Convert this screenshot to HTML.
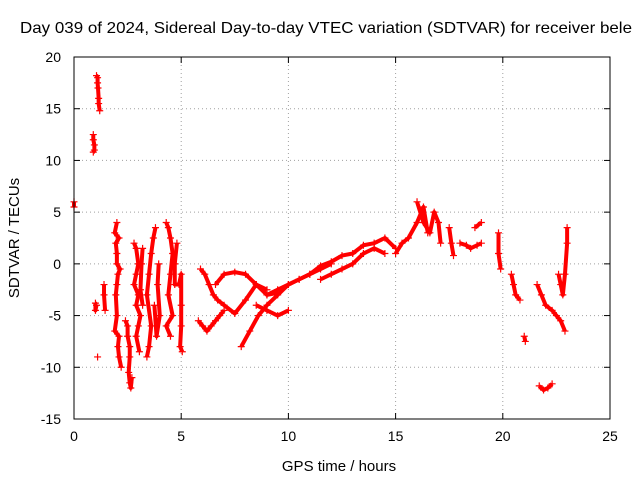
<!DOCTYPE html>
<html><head><meta charset="utf-8"><style>
html,body{margin:0;padding:0;background:#fff;overflow:hidden}
svg{display:block;font-family:"Liberation Sans",sans-serif}
</style></head><body>
<svg id="c" width="640" height="480">
<text x="20" y="33" font-size="16" textLength="612" lengthAdjust="spacingAndGlyphs" fill="#000">Day 039 of 2024, Sidereal Day-to-day VTEC variation (SDTVAR) for receiver bele</text>
<text x="339" y="471" font-size="15" text-anchor="middle">GPS time / hours</text>
<text transform="translate(19,238) rotate(-90)" font-size="15" text-anchor="middle">SDTVAR / TECUs</text>
<g id="grid"></g><g id="ticks"></g><g id="marks"></g>
<rect x="74" y="57" width="536" height="362" fill="none" stroke="#000" stroke-width="1"/>
</svg>
<script>
const xTicks=[0,5,10,15,20,25];
const yTicks=[20,15,10,5,0,-5,-10,-15];
const tracesA=[
[[0,6],[0,5.5]],
[[0.9,12.5],[0.9,12],[0.95,11.5],[0.95,11],[0.9,10.8]],
[[1.05,18.2],[1.1,18],[1.1,17.5],[1.12,17],[1.15,16],[1.15,15.5],[1.2,14.8]],
[[1.0,-3.8],[1.0,-4.5],[1.05,-4]],[[1.1,-9]],
[[1.4,-2],[1.4,-3],[1.45,-4.5]],
[[2.0,4],[1.9,3],[2.1,2.5],[1.95,2],[2.0,1],[2.0,0],[2.15,-0.5],[2.05,-1],[2.0,-2],[1.95,-3],[2.0,-5],[1.9,-6.5],[2.1,-7],[2.05,-8],[2.1,-9],[2.2,-10]],
[[2.4,-5.5],[2.5,-6],[2.5,-7],[2.6,-8],[2.6,-9],[2.55,-10.5],[2.6,-11.5],[2.65,-12],[2.7,-11]],
[[2.8,2],[2.9,1.5],[3.0,0],[2.9,-1],[2.8,-2],[3.0,-3],[2.9,-4],[3.1,-5],[3.0,-6],[2.9,-7],[3.05,-8.5]],
[[3.2,1.5],[3.15,0],[3.1,-2.5],[3.2,-4]],
[[3.8,3.5],[3.7,2.5],[3.6,1],[3.5,-1],[3.4,-3],[3.6,-6],[3.5,-8],[3.4,-9]],
[[3.95,0],[3.9,-2],[4.0,-5],[3.85,-7],[3.75,-4]],
[[4.3,4],[4.4,3.5],[4.5,2.5],[4.6,1],[4.5,-1],[4.4,-3],[4.6,-5],[4.3,-6],[4.5,-7]],
[[4.8,2],[4.7,0],[4.7,-2],[4.9,-2],[5.0,-1],[5.0,-4],[5.0,-6],[4.95,-8],[5.05,-8.5]],
[[5.8,-5.5],[6.0,-6],[6.2,-6.5],[6.4,-6],[6.6,-5.5],[6.8,-5],[7.0,-4.5]],
[[5.9,-0.5],[6.1,-1],[6.3,-2],[6.5,-3],[6.7,-3.5],[7.0,-4],[7.5,-4.8],[8.0,-3.5],[8.5,-2],[9.0,-2.5]],
[[6.6,-2],[7.0,-1],[7.5,-0.8],[8.0,-1],[8.5,-2],[9.0,-3],[9.5,-2.8]],
[[7.8,-8],[8.2,-6.5],[8.6,-5],[9.0,-4],[9.5,-3],[10,-2],[10.5,-1.5],[11,-1],[11.5,-0.5],[12,0]],
[[8.5,-4],[9.0,-4.5],[9.5,-5],[10,-4.5]],
[[9,-3],[9.5,-2.5],[10,-2],[10.5,-1.5],[11,-1],[11.5,-0.2],[12,0.2],[12.5,0.8],[13,1],[13.5,1.8],[14,2],[14.5,2.5],[15,1.5]],
[[11.5,-1.5],[12,-1],[12.5,-0.5],[13,0],[13.5,1],[14,1.5],[14.5,1]],
[[15,1],[15.3,2],[15.6,2.5],[16,4],[16.3,5.5],[16.5,3]],
[[16.0,6],[16.3,4],[16.6,3],[16.8,5],[17,4],[17.1,2]],
[[17.5,3.5],[17.6,2],[17.7,0.8]],
[[18,2],[18.3,1.8],[18.5,1.5],[18.8,1.8],[19,2]],[[18.7,3.5],[19,4]],
[[19.8,3],[19.8,1],[19.9,-0.5]],
[[20.4,-1],[20.5,-2],[20.6,-3],[20.8,-3.5]],[[21,-7],[21.05,-7.5]],
[[21.7,-11.8],[21.9,-12.2],[22.1,-12],[22.3,-11.6]],
[[21.6,-2],[21.8,-3],[22,-4],[22.3,-4.5],[22.5,-5],[22.7,-5.5],[22.9,-6.5]],
[[22.6,-1],[22.7,-2],[22.8,-3],[22.9,-1],[23,2],[23,3.5]]
];
const X0=74,X1=610,Y0=419,Y1=57;
const xs=t=>X0+(t-0)/(25-0)*(X1-X0);
const ys=v=>Y0-(v+15)/(35)*(Y0-Y1);
const NS='http://www.w3.org/2000/svg';
const g=document.getElementById('grid'),tk=document.getElementById('ticks'),mk=document.getElementById('marks');
function mkEl(tag,attrs,par){const e=document.createElementNS(NS,tag);for(const k in attrs)e.setAttribute(k,attrs[k]);par.appendChild(e);return e;}
xTicks.forEach(t=>{const x=xs(t);
 if(t>0&&t<25){const l=mkEl('line',{x1:x,x2:x,y1:Y1,y2:Y0,stroke:'#a0a0a0','stroke-dasharray':'1,3'},g);
 
 }
 const tx=mkEl('text',{x:x,y:Y0+22,'font-size':14,'text-anchor':'middle'},tk);tx.textContent=t;
 
 
 mkEl('line',{x1:x,x2:x,y1:Y0,y2:Y0-6,stroke:'#000'},tk);mkEl('line',{x1:x,x2:x,y1:Y1,y2:Y1+6,stroke:'#000'},tk);});
yTicks.forEach(v=>{const y=ys(v);
 if(v>-15&&v<20){const l=mkEl('line',{x1:X0,x2:X1,y1:y,y2:y,stroke:'#a0a0a0','stroke-dasharray':'1,3'},g);
 
 }
 const tx=mkEl('text',{x:61,y:y+5,'font-size':14,'text-anchor':'end'},tk);tx.textContent=v;
 
 
 mkEl('line',{x1:X0,x2:X0+6,y1:y,y2:y,stroke:'#000'},tk);mkEl('line',{x1:X1,x2:X1-6,y1:y,y2:y,stroke:'#000'},tk);});
tracesA.forEach(tr=>{
 if(tr.length>1){const pl=mkEl('polyline',{points:tr.map(p=>xs(p[0])+','+ys(p[1])).join(' '),fill:'none',stroke:'#f00','stroke-width':4,'stroke-linejoin':'round'},mk);
 
 }
 tr.forEach(p=>{const x=xs(p[0]),y=ys(p[1]);
  const m=mkEl('path',{d:`M${x-3.5},${y}H${x+3.5}M${x},${y-3.5}V${y+3.5}`,stroke:'#f00','stroke-width':1.2},mk);
  
  });
});
</script>
</body></html>
